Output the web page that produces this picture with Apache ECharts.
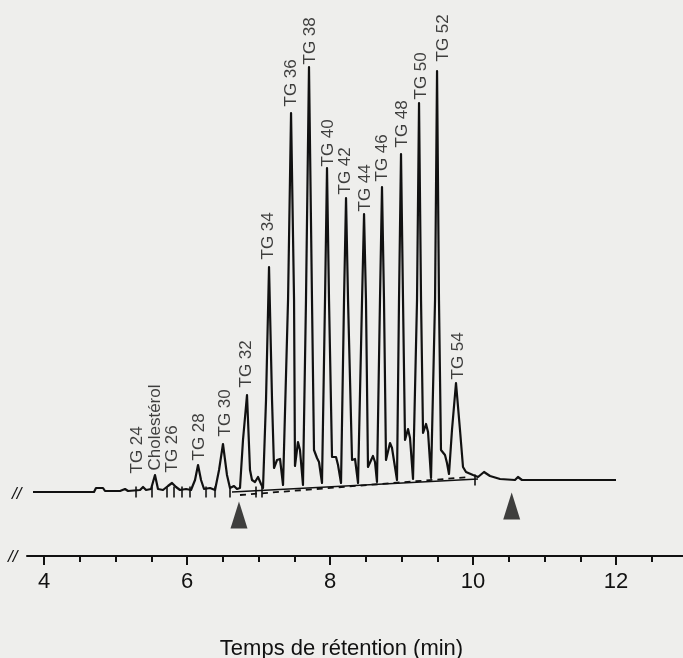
<!DOCTYPE html>
<html>
<head>
<meta charset="utf-8">
<script src="https://cdn.jsdelivr.net/npm/echarts@6/dist/echarts.min.js"></script>
<style>
html, body { margin: 0; padding: 0; background: #eeeeec; }
#main { width: 683px; height: 658px; }
</style>
</head>
<body>
<div id="main"></div>
<script>
// chromatogramme : [temps (min), signal]
var trace = [
    [3.846, 0], [4.699, 0], [4.727, 4], [4.825, 4], [4.853, 1], [5.063, 1], [5.133, 3], [5.175, 1],
    [5.343, 2], [5.385, 5], [5.427, 2], [5.497, 3], [5.552, 17], [5.594, 3], [5.664, 2], [5.734, 6],
    [5.790, 9], [5.846, 5], [5.902, 2], [5.986, 3], [6.056, 2], [6.112, 12], [6.154, 27], [6.196, 12],
    [6.238, 3], [6.322, 4], [6.392, 2], [6.448, 22], [6.503, 48], [6.559, 17], [6.601, 4], [6.657, 6],
    [6.699, 3], [6.741, 4], [6.783, 52], [6.839, 97], [6.881, 22], [6.909, 12], [6.951, 10], [6.993, 15],
    [7.035, 8], [7.063, 4], [7.105, 92], [7.147, 225], [7.189, 92], [7.217, 24], [7.259, 32], [7.301, 33],
    [7.343, 7], [7.413, 192], [7.455, 379], [7.497, 192], [7.510, 26], [7.552, 50], [7.580, 42], [7.622, 7],
    [7.664, 192], [7.706, 425], [7.748, 192], [7.776, 42], [7.818, 34], [7.846, 30], [7.888, 9],
    [7.930, 192], [7.958, 324], [7.986, 192], [8.028, 35], [8.084, 35], [8.112, 27], [8.154, 9],
    [8.196, 192], [8.224, 294], [8.252, 192], [8.308, 32], [8.350, 33], [8.392, 9],
    [8.448, 192], [8.476, 278], [8.503, 192], [8.531, 25], [8.601, 36], [8.629, 30], [8.657, 10],
    [8.699, 192], [8.727, 305], [8.755, 192], [8.783, 32], [8.839, 49], [8.867, 44], [8.937, 12],
    [8.965, 192], [8.993, 338], [9.021, 192], [9.049, 52], [9.091, 63], [9.119, 54], [9.161, 13],
    [9.217, 192], [9.245, 389], [9.273, 192], [9.301, 59], [9.343, 68], [9.371, 60], [9.413, 14],
    [9.469, 192], [9.497, 421], [9.524, 192], [9.552, 42], [9.608, 37], [9.636, 29], [9.664, 18],
    [9.706, 62], [9.762, 109], [9.818, 62], [9.860, 25], [9.902, 20], [10.000, 17], [10.070, 15],
    [10.154, 20], [10.238, 16], [10.378, 13], [10.587, 12], [10.629, 15], [10.685, 12], [12.000, 12]
];

// lignes de base (trait plein et tirets)
var driftLine = [[6.629, 0], [10.070, 13]];
var dashedLine = [[6.741, -3], [9.958, 15]];

// marques d'intégration
var integrationMarks = [
    [5.287, 0], [5.510, 0], [5.720, 0], [5.818, 0], [5.930, 0], [6.042, 0],
    [6.266, 0], [6.392, 0], [6.601, 0], [6.965, 0], [7.049, 0], [10.028, 12]
];

// flèches début / fin
var arrows = [[6.727, -23], [10.541, -14]];

// noms des pics et position de leur étiquette
var peakNames = ['TG 24', 'Cholestérol', 'TG 26', 'TG 28', 'TG 30', 'TG 32', 'TG 34', 'TG 36', 'TG 38',
    'TG 40', 'TG 42', 'TG 44', 'TG 46', 'TG 48', 'TG 50', 'TG 52', 'TG 54'];
var peakLabelAt = [
    [5.301, 18], [5.552, 21], [5.790, 19], [6.168, 31], [6.531, 55], [6.825, 104], [7.133, 232],
    [7.455, 385], [7.720, 427], [7.972, 325], [8.210, 297], [8.490, 280], [8.727, 310],
    [9.007, 344], [9.273, 392], [9.580, 430], [9.790, 112]
];

// graduations de l'axe
var majorTicks = [4, 6, 8, 10, 12];
var minorTicks = [4, 4.5, 5, 5.5, 6, 6.5, 7, 7.5, 8, 8.5, 9, 9.5, 10, 10.5, 11, 11.5, 12, 12.5];

var ink = '#111111';
var font = 'Liberation Sans, Arial, sans-serif';

var myChart = echarts.init(document.getElementById('main'));

var option = {
    backgroundColor: '#eeeeec',
    animation: false,
    title: {
        text: 'Temps de rétention (min)',
        left: 'center',
        top: 633,
        textStyle: { fontFamily: font, fontSize: 22, fontWeight: 'normal', color: ink }
    },
    grid: { left: 27, right: 0, top: 0, bottom: 102 },
    xAxis: [
        {
            type: 'value',
            min: 3.762,
            max: 12.937,
            position: 'bottom',
            axisLine: { onZero: false, lineStyle: { color: ink, width: 2 } },
            axisTick: { customValues: majorTicks, length: 9, lineStyle: { color: ink, width: 2 } },
            axisLabel: { customValues: majorTicks, fontFamily: font, fontSize: 22, margin: 15, color: ink },
            splitLine: { show: false }
        },
        {
            type: 'value',
            min: 3.762,
            max: 12.937,
            position: 'bottom',
            axisLine: { show: false, onZero: false },
            axisTick: { customValues: minorTicks, length: 6, lineStyle: { color: ink, width: 2 } },
            axisLabel: { show: false },
            splitLine: { show: false }
        }
    ],
    yAxis: { type: 'value', min: -64, max: 492, show: false },
    graphic: [
        { type: 'text', left: 12, top: 486, style: { text: '//', font: 'italic 17px ' + font, fill: ink } },
        { type: 'text', left: 8, top: 549, style: { text: '//', font: 'italic 17px ' + font, fill: ink } }
    ],
    series: [
        {
            name: 'drift',
            type: 'line',
            data: driftLine,
            symbol: 'none',
            lineStyle: { color: ink, width: 1.6 },
            z: 2
        },
        {
            name: 'dashed',
            type: 'line',
            data: dashedLine,
            symbol: 'none',
            lineStyle: { color: ink, width: 1.8, type: [6, 5] },
            z: 2
        },
        {
            name: 'trace',
            type: 'line',
            data: trace,
            symbol: 'none',
            lineStyle: { color: ink, width: 2.2, join: 'round' },
            z: 3
        },
        {
            name: 'marks',
            type: 'scatter',
            data: integrationMarks,
            symbol: 'rect',
            symbolSize: [2, 11],
            itemStyle: { color: ink },
            z: 4
        },
        {
            name: 'arrows',
            type: 'scatter',
            data: arrows,
            symbol: 'triangle',
            symbolSize: [17, 27],
            itemStyle: { color: ink },
            z: 4
        },
        {
            name: 'labels',
            type: 'scatter',
            data: peakLabelAt,
            symbolSize: 1,
            itemStyle: { color: 'rgba(0,0,0,0)' },
            label: {
                show: true,
                position: 'top',
                distance: 0,
                rotate: 90,
                align: 'left',
                verticalAlign: 'middle',
                fontFamily: font,
                fontSize: 17,
                color: ink,
                formatter: function (p) {
                    return peakNames[p.dataIndex];
                }
            },
            z: 5
        }
    ]
};

myChart.setOption(option);
</script>
</body>
</html>
